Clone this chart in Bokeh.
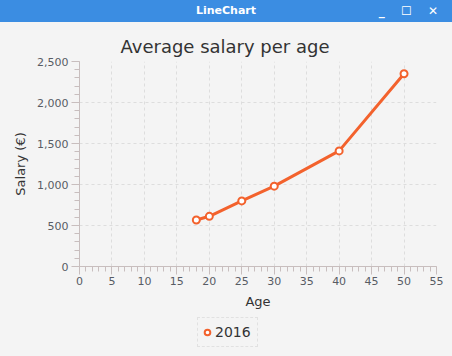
from bokeh.plotting import figure
from bokeh.models import (Range1d, FixedTicker, NumeralTickFormatter, Legend,
                          LegendItem, Div, ColumnDataSource)
from bokeh.layouts import column
from bokeh.embed import file_html
from bokeh.resources import INLINE

# ---- data ----
window_title = "LineChart"
chart_title = "Average salary per age"
x_label = "Age"
y_label = "Salary (€)"
series_name = "2016"
ages = [18, 20, 25, 30, 40, 50]
salaries = [567, 612, 800, 980, 1410, 2350]
x_ticks = list(range(0, 56, 5))
x_minor = list(range(0, 56, 1))
y_ticks = list(range(0, 2501, 500))
y_minor = list(range(0, 2501, 100))

# ---- style ----
BG = "#f4f4f4"
ORANGE = "#f3622d"
FONT = "DejaVu Sans"
AXIS_C = "#c8bebe"
TICK_LBL = "#585c64"
TEXT_C = "#333333"
GRID_C = "#dddddd"
BAR_C = "#3b8de2"

src = ColumnDataSource(data=dict(age=ages, salary=salaries))

p = figure(width=452, height=294,
           x_range=Range1d(0, 55), y_range=Range1d(0, 2500),
           output_backend="svg", toolbar_location=None,
           min_border_left=79, min_border_right=16,
           min_border_top=39, min_border_bottom=50,
           background_fill_color=BG, border_fill_color=BG,
           outline_line_color=None, title=chart_title)

p.title.text_font = FONT
p.title.text_font_size = "18px"
p.title.text_font_style = "normal"
p.title.text_color = TEXT_C
p.title.align = "left"
p.title.offset = 41
p.title.standoff = 10

p.xaxis.ticker = FixedTicker(ticks=x_ticks, minor_ticks=x_minor)
p.yaxis.ticker = FixedTicker(ticks=y_ticks, minor_ticks=y_minor)
p.yaxis.formatter = NumeralTickFormatter(format="0,0")
p.xaxis.axis_label = x_label
p.yaxis.axis_label = y_label

for ax in (p.xaxis, p.yaxis):
    ax.axis_line_color = AXIS_C
    ax.major_tick_line_color = AXIS_C
    ax.minor_tick_line_color = AXIS_C
    ax.major_tick_in = 0
    ax.minor_tick_in = 0
    ax.major_tick_out = 8
    ax.minor_tick_out = 5
    ax.major_label_text_font = FONT
    ax.major_label_text_font_size = "11px"
    ax.major_label_text_color = TICK_LBL
    ax.axis_label_text_font = FONT
    ax.axis_label_text_font_size = "13px"
    ax.axis_label_text_font_style = "normal"
    ax.axis_label_text_color = TEXT_C
    ax.axis_label_standoff = 6
p.xaxis.major_label_standoff = 2
p.yaxis.major_label_standoff = 3

p.grid.grid_line_color = GRID_C
p.grid.grid_line_dash = "3 3"
p.grid.grid_line_width = 1

p.line("age", "salary", source=src, line_color=ORANGE, line_width=3,
       line_join="round")
p.scatter("age", "salary", source=src, marker="circle", size=7,
          fill_color="white", line_color=ORANGE, line_width=2)

# ---- legend strip below the chart (series key only; points kept out of view) ----
p2 = figure(width=452, height=40, output_backend="svg", toolbar_location=None,
            x_range=Range1d(1000, 1001), y_range=Range1d(1000, 1001),
            x_axis_type=None, y_axis_type=None,
            min_border_left=79, min_border_right=16,
            min_border_top=0, min_border_bottom=0,
            background_fill_color=None, border_fill_color=BG,
            outline_line_color=None)
p2.grid.visible = False
key = p2.scatter("age", "salary", source=src, marker="circle", size=7,
                 fill_color="white", line_color=ORANGE, line_width=2)

legend = Legend(items=[LegendItem(label=series_name, renderers=[key])],
                location=(118, 9), orientation="horizontal",
                padding=2, margin=0, spacing=0,
                glyph_width=14, glyph_height=24, label_standoff=1,
                label_width=40,
                label_text_font=FONT, label_text_font_size="14px",
                label_text_color=TEXT_C,
                background_fill_color=BG, background_fill_alpha=1,
                border_line_color="#d0d0d0", border_line_dash="1 1",
                border_line_width=1)
p2.add_layout(legend, "center")

bar = Div(text=(
    '<div style="position:relative;width:452px;height:22px;line-height:22px;'
    'text-align:center;color:#ffffff;font-family:\'DejaVu Sans\';'
    'font-size:11px;font-weight:bold;">' + window_title +
    '<span style="position:absolute;right:8px;top:0;font-size:12px;'
    'letter-spacing:6px;">_ ☐ ✕</span></div>'),
    width=452, height=22,
    styles={"background-color": BAR_C, "margin": "0", "padding": "0"})

layout = column(bar, p, p2, spacing=0, styles={"background-color": BG})

open("out.html", "w").write(file_html(layout, INLINE))
